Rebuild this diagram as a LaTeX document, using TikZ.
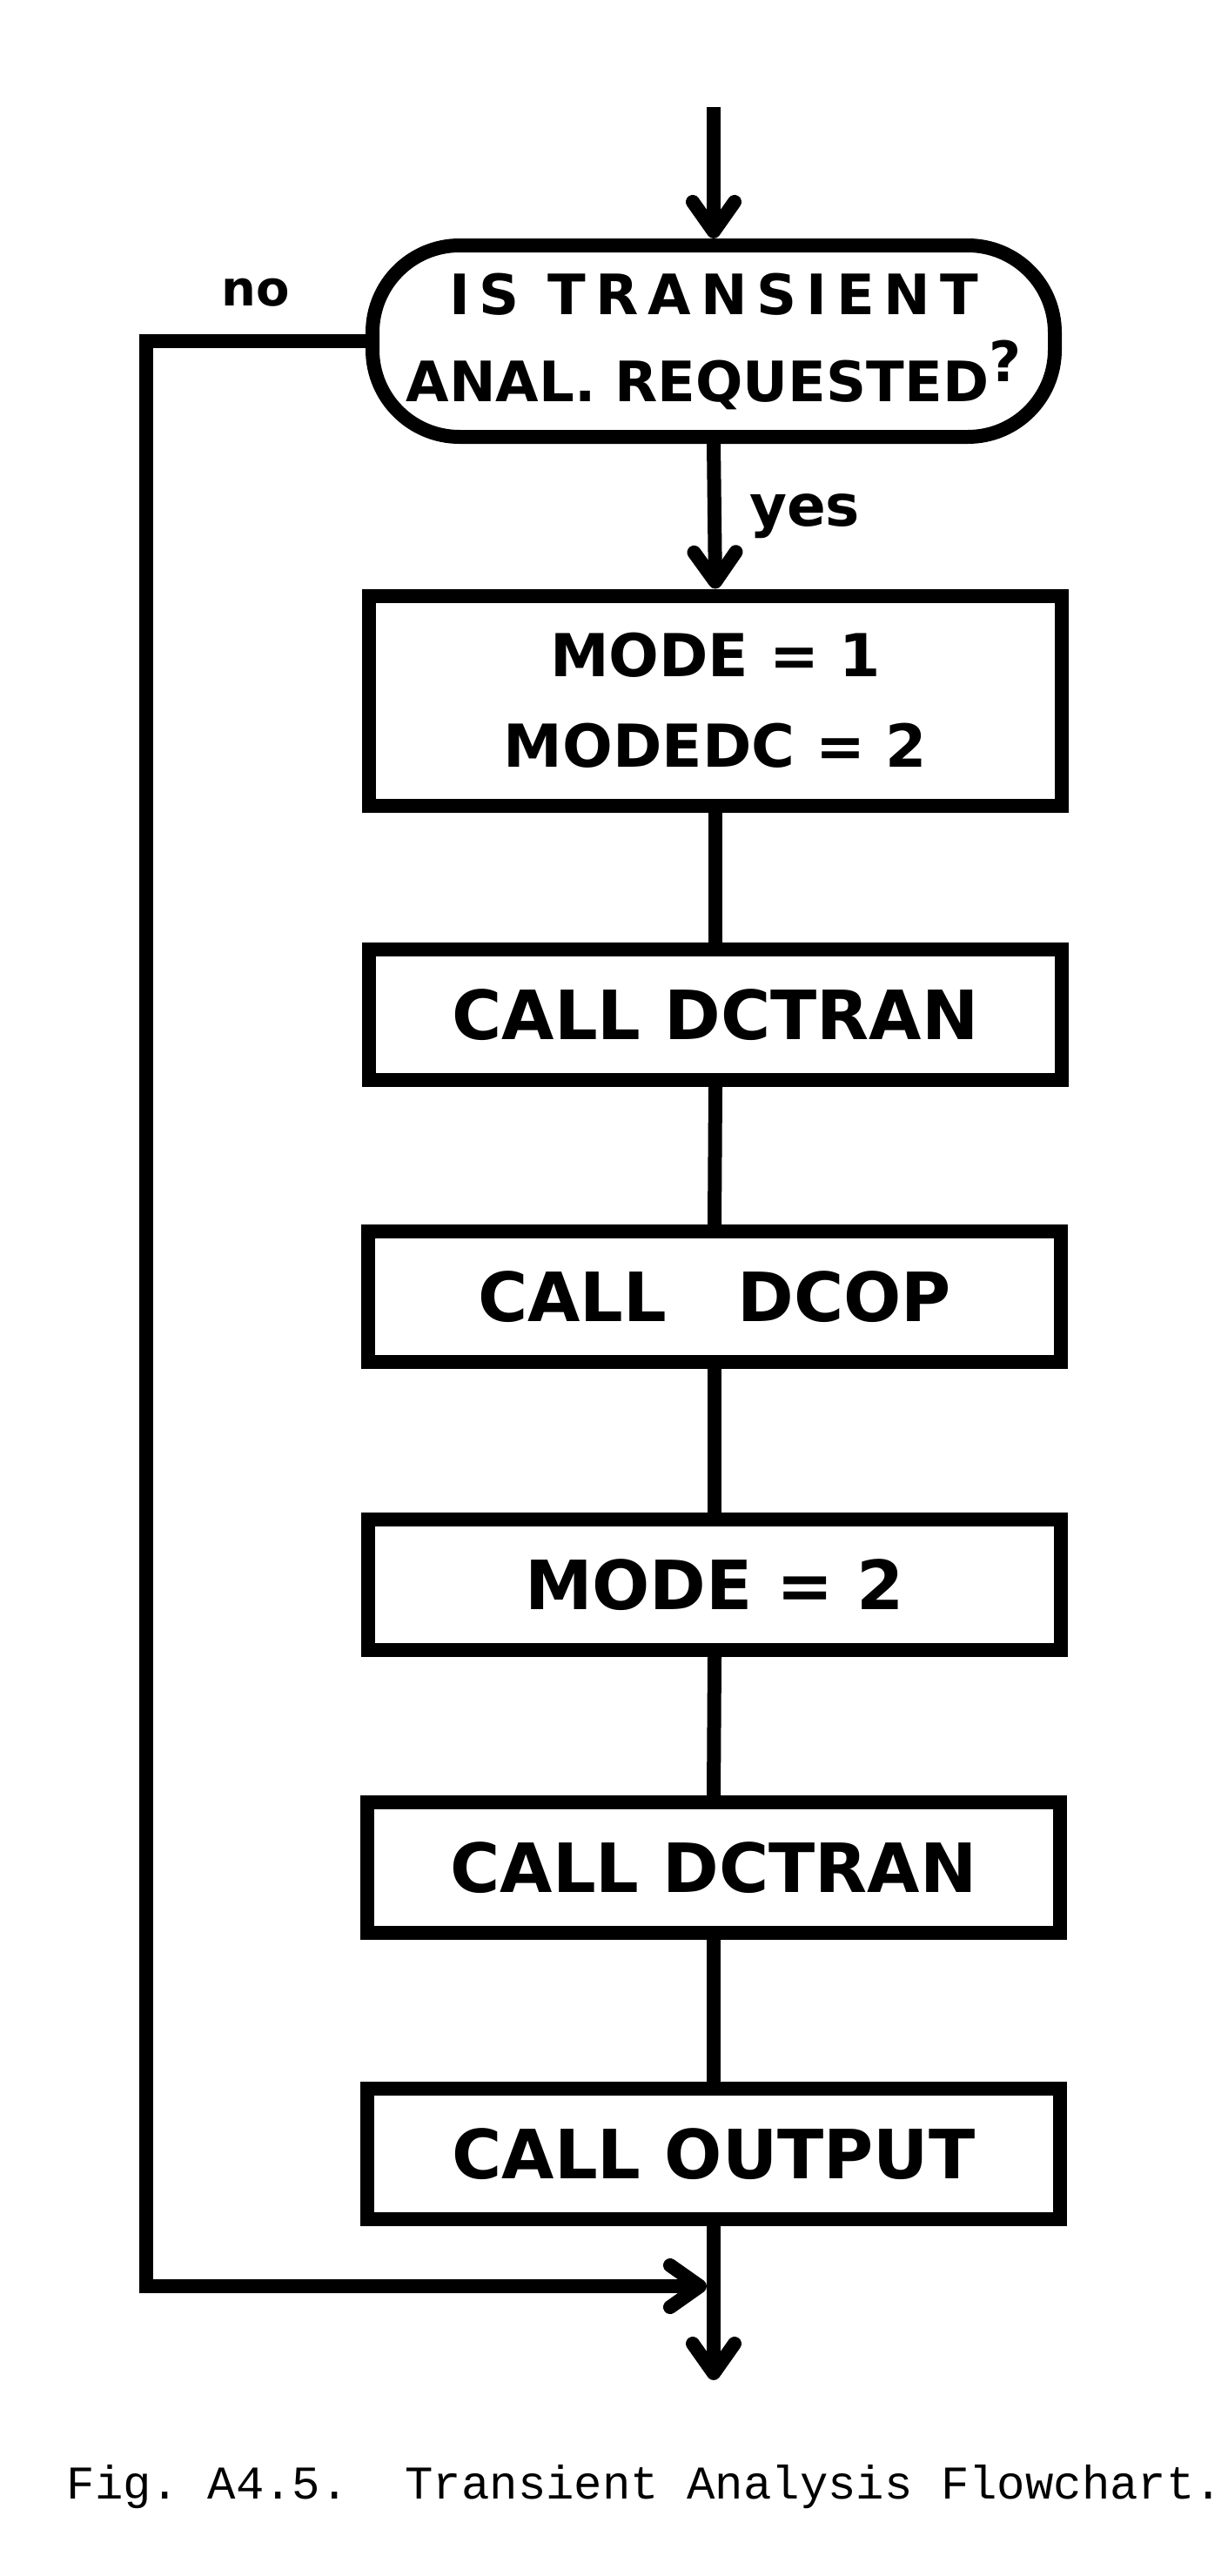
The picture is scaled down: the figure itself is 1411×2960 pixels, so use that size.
\documentclass[tikz,border=0pt]{standalone}
\usepackage{fontspec}
\newfontfamily\handfont{DejaVu Sans}
\newfontfamily\capfont{Liberation Mono}
\usetikzlibrary{arrows.meta}
\begin{document}
\begin{tikzpicture}[x=0.5pt,y=-0.5pt,
  boxtext/.style={font=\handfont\bfseries\fontsize{39pt}{44pt}\selectfont},
  proc/.style={draw, line width=8pt, rectangle, minimum width=398pt, minimum height=75pt, inner sep=0pt, align=center, boxtext},
  term/.style={draw, line width=8pt, rectangle, rounded corners=50pt, minimum width=392pt, minimum height=110pt, inner sep=0pt, align=center,
    font=\handfont\bfseries\fontsize{32pt}{50pt}\selectfont},
  lbl/.style={font=\handfont\bfseries\fontsize{#1}{#1}\selectfont, inner sep=2pt},
  conn/.style={line width=8pt},
  arr/.style={conn, -{Straight Barb[length=17pt,width=24pt,round]}},
  captext/.style={font=\capfont\fontsize{27pt}{30pt}\selectfont, inner sep=0pt}
]
\useasboundingbox (0,0) rectangle (1411,2960);

\node[term] (q) at (820,392) {{\addfontfeatures{LetterSpace=17}IS TRANSIENT}\\ANAL. REQUESTED\raisebox{0.35em}{?}};
\node[proc, minimum height=120.5pt, font=\handfont\bfseries\fontsize{34pt}{52pt}\selectfont] (b1) at (822,805) {MODE = 1\\MODEDC = 2};
\node[proc] (b2) at (822,1166) {CALL DCTRAN};
\node[proc] (b3) at (821,1490) {CALL\ \ \ DCOP};
\node[proc] (b4) at (821,1821) {MODE = 2};
\node[proc] (b5) at (820,2146) {CALL DCTRAN};
\node[proc] (b6) at (820,2475) {CALL OUTPUT};

\coordinate (start) at (820,123);
\coordinate (stop) at (820,2735);
\coordinate (join) at (820,2627);
\coordinate (loopx) at (168,392);

\draw[arr] (start) -- (q.north);
\draw[arr] (q.south) -- node[right=14pt, lbl=33pt] (yes) {yes} (b1.north);
\draw[conn] (b1.south) -- (b2.north);
\draw[conn] (b2.south) -- (b3.north);
\draw[conn] (b3.south) -- (b4.north);
\draw[conn] (b4.south) -- (b5.north);
\draw[conn] (b5.south) -- (b6.north);
\draw[arr] (b6.south) -- (stop);
\draw[arr, shorten >=4pt] (q.west) -- node[above=14pt, lbl=28pt] (no) {no} (loopx) |- (join);

\node[captext] (cap) at (741,2858) {\frenchspacing Fig. A4.5.\ \ Transient Analysis Flowchart.};
\end{tikzpicture}
\end{document}
